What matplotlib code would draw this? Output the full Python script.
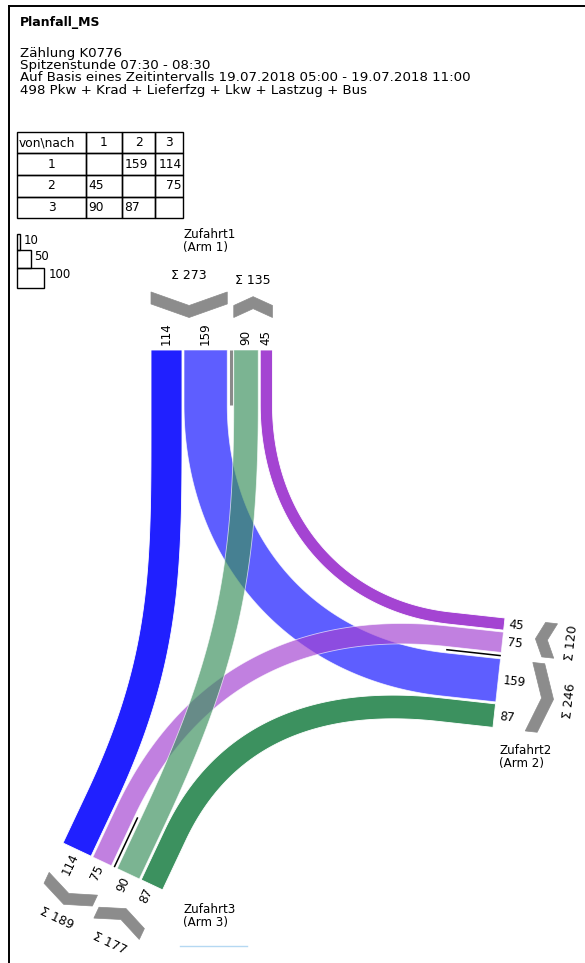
import numpy as np
import matplotlib.pyplot as plt
from matplotlib.patches import Polygon, Rectangle

# ---- data ----
od_from = [1, 1, 2, 2, 3, 3]
od_to = [2, 3, 1, 3, 1, 2]
od_veh = [159, 114, 45, 75, 90, 87]
legend_vals = [10, 50, 100]

header = ["Zählung K0776",
          "Spitzenstunde 07:30 - 08:30",
          "Auf Basis eines Zeitintervalls 19.07.2018 05:00 - 19.07.2018 11:00",
          "498 Pkw + Krad + Lieferfzg + Lkw + Lastzug + Bus"]

vol = {(a, b): v for a, b, v in zip(od_from, od_to, od_veh)}

# ---- layout (pixel units, y pointing down) ----
SCALE = 0.272   # px per vehicle
GAP = 2.0
SEP = 6.5
STRAIGHT = 55
KBEZ = 0.4

# arm: face start corner, direction along face, outward direction, slot order (two groups)
arms = {
    1: dict(S=(151, 350), p=(1.0, 0.0), d=(0.0, -1.0),
            groups=[[(1, 3), (1, 2)], [(3, 1), (2, 1)]], sep='#8a8a8a', sep_lw=2.2,
            name=(183, 241)),
    2: dict(S=(505, 618), p=(-0.1094, 0.994), d=(0.994, 0.1094),
            groups=[[(2, 1), (2, 3)], [(1, 2), (3, 2)]], sep='black', sep_lw=1.1,
            name=(499, 757)),
    3: dict(S=(63, 843), p=(0.905, 0.426), d=(-0.426, 0.905),
            groups=[[(1, 3), (2, 3)], [(3, 1), (3, 2)]], sep='black', sep_lw=1.1,
            name=(183, 916)),
}

colors = {(1, 3): ('#2020ff', 1.0), (1, 2): ('#2020ff', 0.72),
          (2, 1): ('#a444d2', 1.0), (2, 3): ('#a444d2', 0.68),
          (3, 2): ('#3c915f', 1.0), (3, 1): ('#3c915f', 0.68)}

# compute slot centres on each face
slots = {}
group_span = {}
for a, arm in arms.items():
    S = np.array(arm['S'], float)
    p = np.array(arm['p'], float)
    u = 0.0
    spans = []
    for gi, grp in enumerate(arm['groups']):
        if gi > 0:
            u += SEP - GAP
        u0 = u
        for key in grp:
            w = vol[key] * SCALE
            slots[(a, key)] = (u + w / 2, w)
            u += w + GAP
        spans.append((u0, u - GAP))
    group_span[a] = spans


def face_point(a, u, v=0.0):
    arm = arms[a]
    return (np.array(arm['S'], float) + u * np.array(arm['p'], float)
            + v * np.array(arm['d'], float))


def bezier(P0, C1, C2, P3, n=120):
    t = np.linspace(0, 1, n)[:, None]
    return ((1 - t) ** 3 * P0 + 3 * (1 - t) ** 2 * t * C1
            + 3 * (1 - t) * t ** 2 * C2 + t ** 3 * P3)


def band(key):
    a, b = key
    ua, w = slots[(a, key)]
    ub, _ = slots[(b, key)]
    da = np.array(arms[a]['d'], float)
    db = np.array(arms[b]['d'], float)
    A = face_point(a, ua)
    B = face_point(b, ub)
    P0 = A - STRAIGHT * da
    P3 = B - STRAIGHT * db
    k = KBEZ * np.linalg.norm(P3 - P0)
    s1 = np.linspace(A, P0, 15)[:-1]
    cur = bezier(P0, P0 - k * da, P3 - k * db, P3)
    s2 = np.linspace(P3, B, 15)[1:]
    pts = np.vstack([s1, cur, s2])
    tan = np.gradient(pts, axis=0)
    tan /= np.linalg.norm(tan, axis=1)[:, None]
    nrm = np.column_stack([-tan[:, 1], tan[:, 0]])
    left = pts + nrm * w / 2
    right = pts - nrm * w / 2
    return np.vstack([left, right[::-1]])


fig = plt.figure(figsize=(5.85, 9.63), dpi=100)
ax = fig.add_axes([0, 0, 1, 1])
ax.set_xlim(0, 585)
ax.set_ylim(963, 0)
ax.axis('off')

# frame
ax.plot([9, 9], [963, 6], color='black', lw=1.4)
ax.plot([9, 585], [6, 6], color='black', lw=1.4)

# header
ax.text(20, 26, "Planfall_MS", fontsize=9, fontweight='bold', va='baseline')
for i, line in enumerate(header):
    ax.text(20, 57 + 12.2 * i, line, fontsize=9.6, va='baseline')

# table
col_x = [17, 86, 122, 155, 183]
row_y = [132, 153.5, 175, 196.7, 218.3]
for r in range(4):
    for c in range(4):
        ax.add_patch(Rectangle((col_x[c], row_y[r]), col_x[c + 1] - col_x[c],
                               row_y[r + 1] - row_y[r], fill=False, lw=1, ec='black'))
ax.text(19, (row_y[0] + row_y[1]) / 2, "von\\nach", fontsize=8.8, va='center')
for i, a in enumerate(arms):
    ax.text((col_x[i + 1] + col_x[i + 2]) / 2, (row_y[0] + row_y[1]) / 2, str(a),
            fontsize=8.8, va='center', ha='center')
    ax.text((col_x[0] + col_x[1]) / 2, (row_y[i + 1] + row_y[i + 2]) / 2, str(a),
            fontsize=8.8, va='center', ha='center')
for (a, b), v in vol.items():
    x0, x1 = col_x[b], col_x[b + 1]
    yc = (row_y[a] + row_y[a + 1]) / 2
    if b == 3:
        ax.text(x1 - 1.5, yc, str(v), fontsize=8.8, va='center', ha='right')
    else:
        ax.text(x0 + 2.5, yc, str(v), fontsize=8.8, va='center', ha='left')

# legend
leg_top = [234, 250, 268]
leg_h = [16, 18, 20]
for v, t, h in zip(legend_vals, leg_top, leg_h):
    w = v * SCALE
    ax.add_patch(Rectangle((17, t), w, h, fill=False, lw=1, ec='black'))
    ax.text(17 + w + 4, t + 6, str(v), fontsize=8.5, va='center', ha='left')

# bands: solid first, then transparent
order = sorted(vol.keys(), key=lambda k: -colors[k][1])
for key in order:
    col, al = colors[key]
    ax.add_patch(Polygon(band(key), closed=True, fc=col, alpha=al, ec='white', lw=0.6))

# per arm: separators, labels, chevrons
for a, arm in arms.items():
    d = np.array(arm['d'], float)
    ang = np.degrees(np.arctan2(-d[1], d[0]))
    # separator between the two groups
    u_sep = (group_span[a][0][1] + group_span[a][1][0]) / 2
    s0 = face_point(a, u_sep)
    s1 = face_point(a, u_sep, -STRAIGHT)
    ax.plot([s0[0], s1[0]], [s0[1], s1[1]], color=arm['sep'], lw=arm['sep_lw'],
            solid_capstyle='butt')
    # counts
    rot = ang
    ha = 'left'
    if rot > 90 or rot < -90:
        rot = rot + 180 if rot < 0 else rot - 180
        ha = 'right'
    for grp in arm['groups']:
        for key in grp:
            uc, w = slots[(a, key)]
            pt = face_point(a, uc, 5)
            ax.text(pt[0], pt[1], str(vol[key]), fontsize=8.6, rotation=rot,
                    rotation_mode='anchor', ha=ha, va='center')
    # chevrons and sums
    srot = ang + 90
    if srot > 90:
        srot -= 180
    for gi, grp in enumerate(arm['groups']):
        u0, u1 = group_span[a][gi]
        uc = (u0 + u1) / 2
        h = (u1 - u0) / 2
        inward = all(k[0] == a for k in grp)
        apex = 0.25 * h + 4
        v0 = 38.5
        t = 12
        if inward:
            v_tip, v_apex = v0 + apex, v0
        else:
            v_tip, v_apex = v0, v0 + apex
        local = [(uc - h, v_tip - t / 2), (uc, v_apex - t / 2), (uc + h, v_tip - t / 2),
                 (uc + h, v_tip + t / 2), (uc, v_apex + t / 2), (uc - h, v_tip + t / 2)]
        poly = np.array([face_point(a, uu, vv) for uu, vv in local])
        ax.add_patch(Polygon(poly, closed=True, fc='#8c8c8c', ec='#8c8c8c', lw=0.5))
        total = sum(vol[k] for k in grp)
        lp = face_point(a, uc, v0 + apex + 22)
        ax.text(lp[0], lp[1], "Σ %d" % total, fontsize=9, rotation=srot,
                rotation_mode='anchor', ha='center', va='center')
    nx, ny = arm['name']
    ax.text(nx, ny, "Zufahrt%d\n(Arm %d)" % (a, a), fontsize=8.6, va='center',
            ha='left', linespacing=1.05)

ax.plot([180, 247], [946, 946], color='#b5d8f2', lw=1)

fig.savefig('out.png', dpi=100)
